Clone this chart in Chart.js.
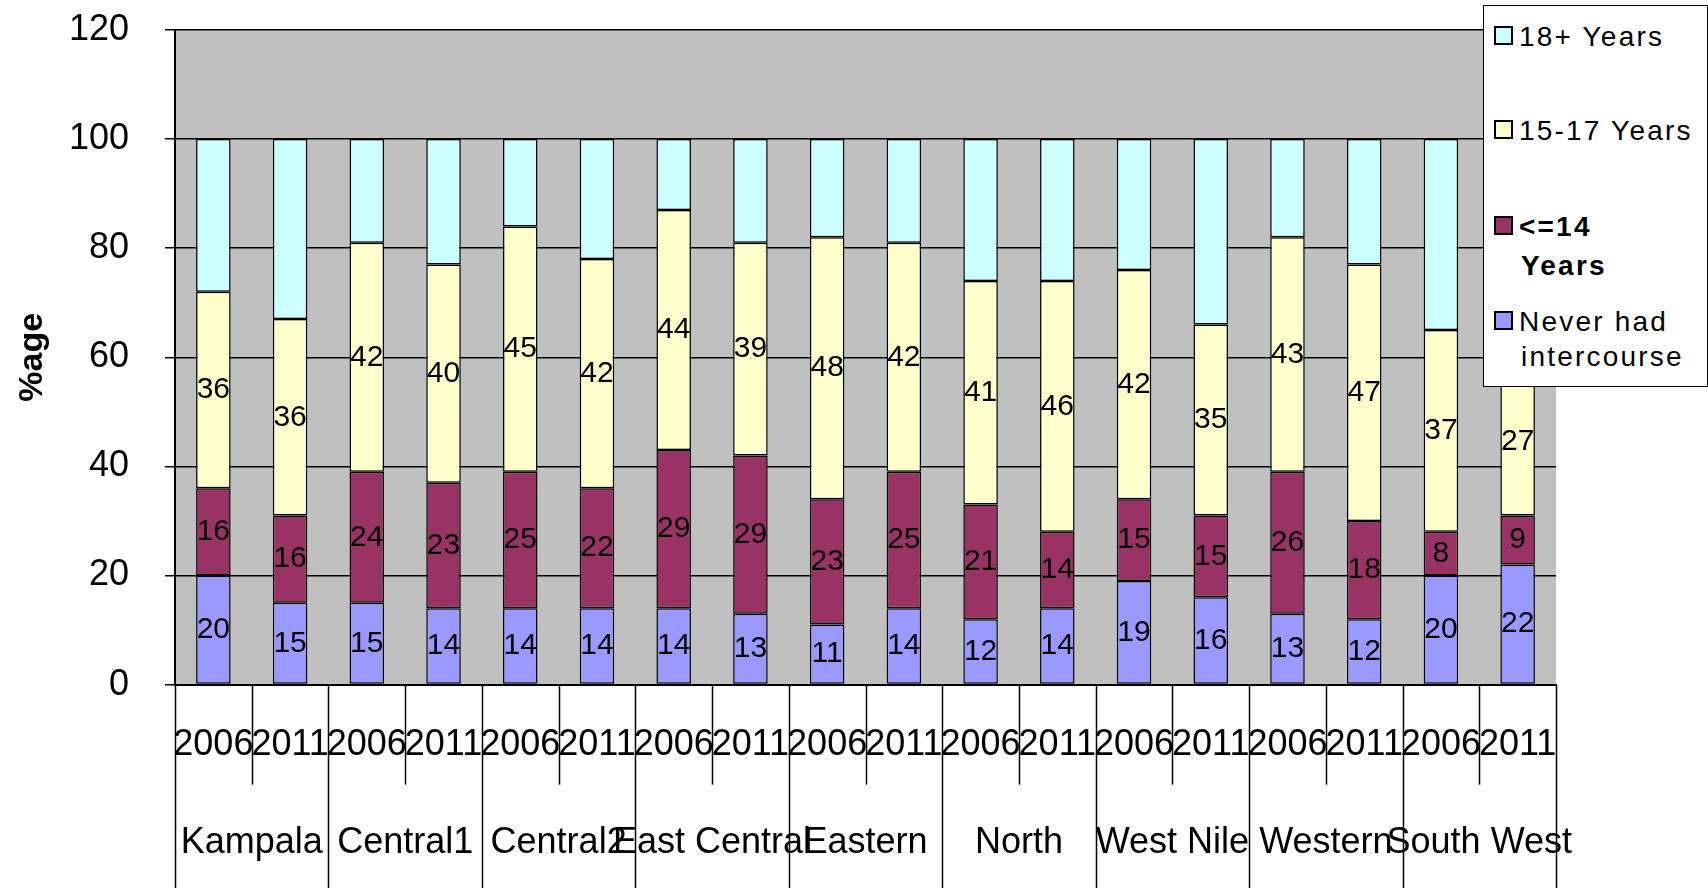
<!DOCTYPE html>
<html>
<head>
<meta charset="utf-8">
<script src="https://cdn.jsdelivr.net/npm/chart.js@4.4.1/dist/chart.umd.min.js"></script>
<style>
  body { margin: 0; background: #fff; }
  #wrap { position: relative; width: 1708px; height: 888px; }
  #legend {
    position: absolute; left: 1483px; top: 5px; width: 223px; height: 380px;
    border: 1.5px solid #000; background: #fff;
    font-family: "Liberation Sans", Arial, sans-serif; font-size: 28px; color: #000;
  }
  .item { position: absolute; left: 10px; letter-spacing: 2.2px; white-space: nowrap; }
  .sw { display: inline-block; width: 15px; height: 15px; border: 2px solid #000; margin-right: 6px; vertical-align: 1px; }
</style>
</head>
<body>
<div id="wrap">
  <canvas id="grafico" width="1708" height="888"></canvas>
  <div id="legend"></div>
</div>
<script>
const anos = ['2006', '2011', '2006', '2011', '2006', '2011', '2006', '2011', '2006',
    '2011', '2006', '2011', '2006', '2011', '2006', '2011', '2006', '2011'];
const regioes = ['Kampala', 'Central1', 'Central2', 'East Central', 'Eastern',
    'North', 'West Nile', 'Western', 'South West'];

// valores
const nuncaTeve = [20, 15, 15, 14, 14, 14, 14, 13, 11, 14, 12, 14, 19, 16, 13, 12, 20, 22];
const ate14 = [16, 16, 24, 23, 25, 22, 29, 29, 23, 25, 21, 14, 15, 15, 26, 18, 8, 9];
const de15a17 = [36, 36, 42, 40, 45, 42, 44, 39, 48, 42, 41, 46, 42, 35, 43, 47, 37, 27];
const mais18 = [28, 33, 19, 23, 16, 22, 13, 19, 18, 19, 26, 26, 24, 34, 18, 23, 35, 42];

const fonte = '"Liberation Sans", Arial, sans-serif';

// fundo cinza da area do grafico
const fundo = {
    id: 'fundo',
    beforeDraw(chart) {
        const a = chart.chartArea, ctx = chart.ctx;
        ctx.save();
        ctx.fillStyle = '#c0c0c0';
        ctx.fillRect(a.left, a.top, a.right - a.left, a.bottom - a.top);
        ctx.restore();
    }
};

// numeros dentro das barras
const rotulos = {
    id: 'rotulos',
    afterDatasetsDraw(chart) {
        const ctx = chart.ctx;
        ctx.save();
        ctx.font = '30px ' + fonte;
        ctx.fillStyle = '#000';
        ctx.textAlign = 'center';
        ctx.textBaseline = 'middle';
        chart.data.datasets.forEach((ds, i) => {
            if (!ds.mostrar) return;
            chart.getDatasetMeta(i).data.forEach((bar, j) => {
                const c = bar.getCenterPoint();
                ctx.fillText(String(ds.data[j]), c.x, c.y);
            });
        });
        ctx.restore();
    }
};

// linhas separadoras abaixo do eixo x
const separadores = {
    id: 'separadores',
    afterDraw(chart) {
        const x = chart.scales.x, ctx = chart.ctx;
        const passo = (x.right - x.left) / anos.length;
        ctx.save();
        ctx.strokeStyle = '#000';
        ctx.lineWidth = 1.5;
        for (let i = 0; i <= anos.length; i++) {
            const px = Math.round(x.left + i * passo) + 0.5;
            ctx.beginPath();
            ctx.moveTo(px, x.top);
            ctx.lineTo(px, i % 2 === 0 ? chart.height : x.top + 100);
            ctx.stroke();
        }
        ctx.restore();
    }
};

const dados = {
    labels: anos,
    datasets: [
        { label: 'Never had intercourse', data: nuncaTeve, backgroundColor: '#9999ff', mostrar: true },
        { label: '<=14 Years', data: ate14, backgroundColor: '#993366', mostrar: true },
        { label: '15-17 Years', data: de15a17, backgroundColor: '#ffffcc', mostrar: true },
        { label: '18+ Years', data: mais18, backgroundColor: '#ccffff', mostrar: false }
    ].map(d => Object.assign(d, {
        borderColor: '#000', borderWidth: 1.5, borderSkipped: false,
        barPercentage: 0.45, categoryPercentage: 1
    }))
};

const grafico = new Chart(document.getElementById('grafico'), {
    type: 'bar',
    data: dados,
    options: {
        responsive: false,
        animation: false,
        layout: { padding: { left: 8, top: 8, right: 152, bottom: 7 } },
        plugins: { legend: { display: false }, tooltip: { enabled: false } },
        scales: {
            x: {
                stacked: true,
                weight: 0,
                grid: { display: false, drawTicks: false },
                border: { display: true, color: '#000', width: 2 },
                ticks: { color: '#000', font: { family: fonte, size: 36 }, padding: 39, maxRotation: 0, autoSkip: false }
            },
            x2: {
                type: 'category',
                labels: regioes,
                position: 'bottom',
                weight: 1,
                grid: { display: false, drawTicks: false },
                border: { display: false },
                ticks: { color: '#000', font: { family: fonte, size: 36 }, padding: 16, maxRotation: 0, autoSkip: false }
            },
            y: {
                stacked: true,
                min: 0,
                max: 120,
                ticks: { stepSize: 20, color: '#000', font: { family: fonte, size: 36 }, padding: 36 },
                grid: { color: '#000', lineWidth: 1.5, tickLength: 10 },
                border: { color: '#000', width: 2 },
                title: { display: true, text: '%age', color: '#000', font: { family: fonte, size: 34, weight: 'bold' } },
                afterFit(s) {
                    s.width = 167;
                    s.paddingTop = 30;
                    s.paddingBottom = 22;
                }
            }
        }
    },
    plugins: [fundo, rotulos, separadores]
});

// legenda (ordem invertida, como no original)
const legenda = document.getElementById('legend');
const itens = [
    { top: 12, altura: 38, linhas: ['18+ Years'] },
    { top: 106, altura: 38, linhas: ['15-17 Years'] },
    { top: 201, altura: 39, linhas: ['<=14', 'Years'], negrito: true },
    { top: 298, altura: 35, linhas: ['Never had', 'intercourse'] }
];
const cores = ['#ccffff', '#ffffcc', '#993366', '#9999ff'];
itens.forEach((p, i) => {
    const el = document.createElement('div');
    el.className = 'item';
    el.style.top = p.top + 'px';
    el.style.lineHeight = p.altura + 'px';
    if (p.negrito) el.style.fontWeight = 'bold';
    el.innerHTML = '<span class="sw" style="background:' + cores[i] + '"></span>' + p.linhas[0] +
        (p.linhas[1] ? '<br><span style="padding-left:27px">' + p.linhas[1] + '</span>' : '');
    legenda.appendChild(el);
});
</script>
</body>
</html>
